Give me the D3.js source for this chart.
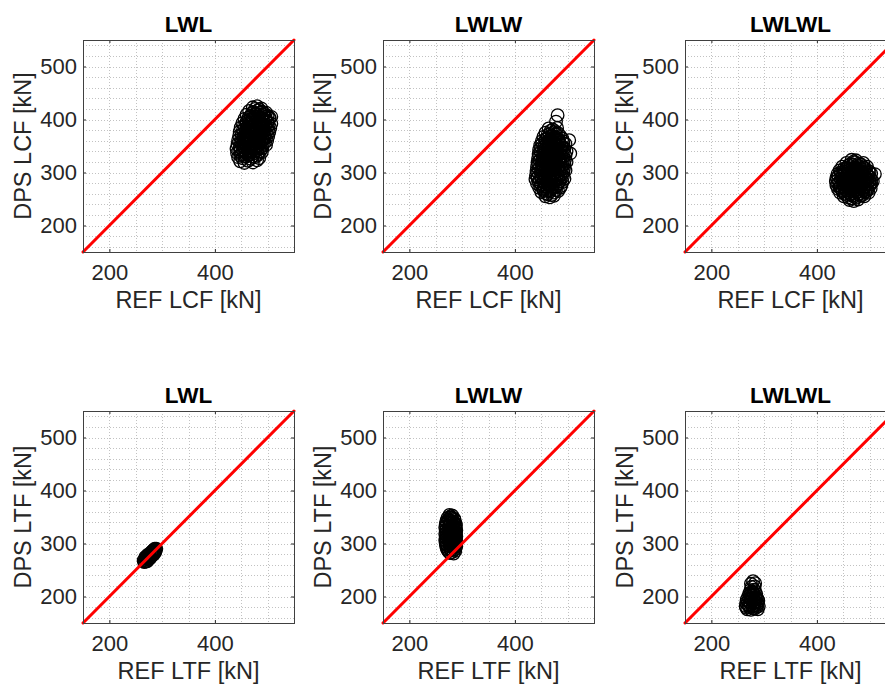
<!DOCTYPE html>
<html><head><meta charset="utf-8">
<script src="https://cdn.jsdelivr.net/npm/d3@7"></script>
<style>body{margin:0;background:#fff;} svg{display:block;}</style>
</head><body>
<svg id="chart" width="885" height="684"></svg>
<script>
// ---------- data ----------
const panelTitles = ["LWL", "LWLW", "LWLWL"];
const rowQuantities = ["LCF", "LTF"];
const axisDomain = [150, 550];
const xTickValues = [200, 400];
const yTickValues = [200, 300, 400, 500];
const xGridValues = [200, 250, 300, 350, 400, 450, 500];
const yGridValues = [160, 180, 200, 220, 240, 260, 280, 300, 320, 340, 360, 380, 400, 420, 440, 460, 480, 500, 520, 540];

// [REF, DPS] pairs
const lcfLWL = [
[448,321],[456,318],[463,322],[472,319],[480,323],
[444,329],[452,327],[460,330],[468,326],[476,329],[484,327],
[442,337],[450,335],[458,338],[466,334],[474,337],[482,335],[489,338],
[441,345],[449,343],[457,346],[465,342],[473,345],[481,343],[490,346],
[443,353],[451,351],[459,354],[467,350],[475,353],[483,351],[491,354],[497,352],
[444,361],[452,359],[460,362],[468,358],[476,361],[484,359],[492,362],[499,360],
[446,369],[454,367],[462,370],[470,366],[478,369],[486,367],[494,370],[501,368],
[447,377],[455,375],[463,378],[471,374],[479,377],[487,375],[495,378],[503,376],
[449,385],[457,383],[465,386],[473,382],[481,385],[489,383],[497,386],[505,384],
[452,393],[460,391],[468,394],[476,390],[484,393],[492,391],[500,394],[507,392],
[456,401],[464,399],[472,402],[480,398],[488,401],[496,399],[504,402],
[460,409],[468,407],[476,410],[484,406],[492,409],[500,407],[507,405],
[465,416],[473,414],[481,417],[489,415],[497,413],
[472,423],[480,425],[488,421],
[448,332],[456,331],[464,333],[472,331],[480,332],
[446,340],[454,339],[462,341],[470,339],[478,341],[486,340],
[447,348],[455,347],[463,349],[471,347],[479,349],[487,348],
[448,356],[456,355],[464,357],[472,355],[480,357],[488,356],[495,357],
[450,364],[458,363],[466,365],[474,363],[482,365],[490,364],[497,365],
[451,372],[459,371],[467,373],[475,371],[483,373],[491,372],[499,373],
[453,380],[461,379],[469,381],[477,379],[485,381],[493,380],[501,381],
[455,388],[463,387],[471,389],[479,387],[487,389],[495,388],[502,389],
[460,396],[468,395],[476,397],[484,395],[492,397],[500,396],
[464,404],[472,403],[480,405],[488,403],[496,405],[503,404],
[470,412],[478,411],[486,413],[494,411],
[476,420],[484,419]
];
const lcfLWLW = [
[458,255],[466,253],[474,256],
[450,263],[458,261],[466,264],[474,262],[482,265],
[446,271],[454,269],[462,272],[470,270],[478,273],[486,271],
[442,279],[450,277],[458,280],[466,278],[474,281],[482,279],[490,282],
[439,287],[447,285],[455,288],[463,286],[471,289],[479,287],[487,290],[494,288],
[440,295],[448,293],[456,296],[464,294],[472,297],[480,295],[488,298],
[441,303],[449,301],[457,304],[465,302],[473,305],[481,303],[489,306],[496,304],
[442,311],[450,309],[458,312],[466,310],[474,313],[482,311],[490,314],
[443,319],[451,317],[459,320],[467,318],[475,321],[483,319],[491,322],[498,320],
[444,327],[452,325],[460,328],[468,326],[476,329],[484,327],[492,330],
[445,335],[453,333],[461,336],[469,334],[477,337],[485,335],[493,338],[505,336],
[446,343],[454,341],[462,344],[470,342],[478,345],[486,343],[494,346],
[448,351],[456,349],[464,352],[472,350],[480,353],[488,351],[496,354],
[451,359],[459,357],[467,360],[475,358],[483,361],[491,359],[503,361],
[454,367],[462,365],[470,368],[478,366],[486,369],
[458,375],[466,373],[474,376],[482,374],
[464,383],[472,381],[480,384],
[478,396],[481,408],
[462,259],[470,258],
[454,267],[462,266],[470,268],[478,267],
[448,275],[456,274],[464,276],[472,274],[480,276],[488,275],
[445,283],[453,282],[461,284],[469,282],[477,284],[485,283],
[443,291],[451,290],[459,292],[467,290],[475,292],[483,291],[491,292],
[444,299],[452,298],[460,300],[468,298],[476,300],[484,299],[492,300],
[445,307],[453,306],[461,308],[469,306],[477,308],[485,307],[493,308],
[446,315],[454,314],[462,316],[470,314],[478,316],[486,315],[494,316],
[447,323],[455,322],[463,324],[471,322],[479,324],[487,323],[495,324],
[448,331],[456,330],[464,332],[472,330],[480,332],[488,331],[496,332],
[449,339],[457,338],[465,340],[473,338],[481,340],[489,339],[498,340],
[450,347],[458,346],[466,348],[474,346],[482,348],[490,347],
[452,355],[460,354],[468,356],[476,354],[484,356],[492,355],
[458,363],[466,362],[474,364],[482,362],[490,364],
[462,371],[470,370],[478,372],
[468,379],[476,378]
];
const lcfLWLWL = [
[462,248],[470,246],[478,249],
[451,255],[459,253],[467,256],[475,254],[483,256],[490,255],
[444,262],[452,260],[460,263],[468,261],[476,263],[484,261],[492,263],[498,262],
[440,269],[448,267],[456,270],[464,268],[472,270],[480,268],[488,270],[496,268],[502,270],
[437,276],[445,274],[453,277],[461,275],[469,277],[477,275],[485,277],[493,275],[501,277],
[436,283],[444,281],[452,284],[460,282],[468,284],[476,282],[484,284],[492,282],[500,284],[506,283],
[437,290],[445,288],[453,291],[461,289],[469,291],[477,289],[485,291],[493,289],[501,291],
[439,297],[447,295],[455,298],[463,296],[471,298],[479,296],[487,298],[495,296],[503,298],
[443,304],[451,302],[459,305],[467,303],[475,305],[483,303],[491,305],[498,303],
[448,311],[456,309],[464,312],[472,310],[480,312],[488,310],[495,311],
[456,318],[464,316],[472,319],[480,317],[488,318],
[466,324],[474,323],
[510,297],
[466,251],[474,252],
[455,258],[463,259],[471,258],[479,259],[487,258],
[448,265],[456,266],[464,265],[472,266],[480,265],[488,266],[495,265],
[443,272],[451,273],[459,272],[467,273],[475,272],[483,273],[491,272],[499,273],
[440,279],[448,280],[456,279],[464,280],[472,279],[480,280],[488,279],[496,280],[503,279],
[440,286],[448,287],[456,286],[464,287],[472,286],[480,287],[488,286],[496,287],[503,286],
[441,293],[449,294],[457,293],[465,294],[473,293],[481,294],[489,293],[497,294],
[445,300],[453,301],[461,300],[469,301],[477,300],[485,301],[493,300],[500,301],
[451,307],[459,308],[467,307],[475,308],[483,307],[491,308],
[460,314],[468,315],[476,314],[484,315],
[470,321]
];
const ltfLWL = [
[266,265],[270,266],[268,269],[272,270],[265,268],[271,273],[274,271],[276,274],[273,276],[269,272],
[278,276],[275,278],[280,277],[282,280],[279,283],[284,283],[281,285],[286,285],[283,287],
[288,288],[285,289],[287,284],[273,279],[268,274],[284,279],[271,276],[289,290],[277,272],[286,290],
[272,267],[275,272],[278,274],[280,282],[283,282],[286,287],[276,279],[281,279],[270,271],[267,266]
];
const ltfLWLW = [
[277,282],[284,281],
[272,288],[279,287],[286,289],
[270,294],[277,295],[284,293],[289,295],
[269,300],[276,301],[283,299],[289,301],
[268,306],[275,307],[282,305],[288,307],
[269,312],[276,313],[283,311],[289,313],
[268,318],[275,319],[282,317],[288,319],
[269,324],[276,325],[283,323],[289,325],
[268,330],[275,331],[282,329],[287,331],
[269,336],[276,337],[283,335],[288,337],
[270,342],[277,343],[284,341],
[272,348],[279,349],[285,347],
[276,354],[281,353],
[274,285],[281,284],[287,286],
[271,291],[278,290],[285,292],
[270,297],[277,298],[284,296],[288,298],
[269,303],[276,304],[283,302],[288,304],
[270,309],[277,310],[284,308],[288,310],
[270,315],[277,316],[284,314],[288,316],
[270,321],[277,322],[284,320],[288,322],
[270,327],[277,328],[284,326],[288,328],
[270,333],[277,334],[284,332],[288,334],
[271,339],[278,340],[285,338],
[274,345],[281,346],[286,344],
[278,351]
];
const ltfLWLWL = [
[268,176],[275,175],[282,177],[288,176],
[265,182],[271,183],[278,181],[285,183],[290,182],
[266,188],[273,189],[280,187],[287,189],
[267,194],[274,195],[281,193],[288,195],
[270,200],[277,201],[284,199],
[272,206],[279,207],[285,205],
[274,212],[281,213],
[276,218],[282,219],
[275,224],[283,225],
[279,229],
[266,179],[272,180],[279,178],[286,180],
[268,185],[275,186],[282,184],[288,186],
[269,191],[276,192],[283,190],[289,192],
[272,197],[279,198],[286,196],
[274,203],[281,204],
[277,209],[283,210]
];
const panelData = [[lcfLWL, lcfLWLW, lcfLWLWL], [ltfLWL, ltfLWLW, ltfLWLWL]];

// ---------- layout ----------
const colLeft = [83, 383, 685];
const rowTop = [40, 411];
const W = 211, H = 212;
const FONT = "'Liberation Sans', Arial, Helvetica, sans-serif";
const TXT = "#262626";

const svg = d3.select("#chart");

rowQuantities.forEach((q, r) => {
  panelTitles.forEach((t, c) => {
    const g = svg.append("g").attr("transform", `translate(${colLeft[c]},${rowTop[r]})`);
    const x = d3.scaleLinear().domain(axisDomain).range([0, W]);
    const y = d3.scaleLinear().domain(axisDomain).range([H, 0]);

    // grid
    g.append("g").selectAll("line").data(xGridValues).join("line")
      .attr("x1", d => Math.round(x(d)) + 0.5).attr("x2", d => Math.round(x(d)) + 0.5)
      .attr("y1", 0).attr("y2", H)
      .attr("stroke", "#c2c2c2").attr("stroke-width", 1).attr("stroke-dasharray", "1,2");
    g.append("g").selectAll("line").data(yGridValues).join("line")
      .attr("y1", d => Math.round(y(d)) + 0.5).attr("y2", d => Math.round(y(d)) + 0.5)
      .attr("x1", 0).attr("x2", W)
      .attr("stroke", "#c2c2c2").attr("stroke-width", 1).attr("stroke-dasharray", "1,2");

    // points
    g.append("g").selectAll("circle").data(panelData[r][c]).join("circle")
      .attr("cx", d => x(d[0])).attr("cy", d => y(d[1])).attr("r", 6.3)
      .attr("fill", "none").attr("stroke", "#000").attr("stroke-width", 1.3);

    // 1:1 line
    g.append("line")
      .attr("x1", x(axisDomain[0])).attr("y1", y(axisDomain[0]))
      .attr("x2", x(axisDomain[1])).attr("y2", y(axisDomain[1]))
      .attr("stroke", "#ff0000").attr("stroke-width", 3).attr("stroke-linecap", "round");

    // axes
    const styleAxis = sel => {
      sel.select(".domain").remove();
      sel.selectAll(".tick line").attr("stroke", TXT);
      sel.selectAll(".tick text").attr("fill", TXT).style("font-family", FONT).style("font-size", "22px");
    };
    g.append("g").attr("transform", `translate(0,${H})`)
      .call(d3.axisBottom(x).tickValues(xTickValues).tickSizeInner(-3).tickSizeOuter(0).tickPadding(12.5))
      .call(styleAxis);
    g.append("g")
      .call(d3.axisLeft(y).tickValues(yTickValues).tickSizeInner(-3).tickSizeOuter(0).tickPadding(6))
      .call(styleAxis);
    g.append("g")
      .call(d3.axisTop(x).tickValues(xTickValues).tickSizeInner(-3).tickSizeOuter(0).tickFormat(""))
      .call(styleAxis);
    g.append("g").attr("transform", `translate(${W},0)`)
      .call(d3.axisRight(y).tickValues(yTickValues).tickSizeInner(-3).tickSizeOuter(0).tickFormat(""))
      .call(styleAxis);

    // box
    g.append("rect").attr("x", 0.5).attr("y", 0.5).attr("width", W).attr("height", H)
      .attr("fill", "none").attr("stroke", "#404040").attr("stroke-width", 1);

    // title
    g.append("text").attr("x", W / 2).attr("y", -8).attr("text-anchor", "middle")
      .style("font-family", FONT).style("font-size", "22.5px").style("font-weight", "bold")
      .attr("fill", "#000").text(t);
    // x label
    g.append("text").attr("x", W / 2).attr("y", H + 56).attr("text-anchor", "middle")
      .style("font-family", FONT).style("font-size", "23.5px").attr("fill", TXT)
      .text(`REF ${q} [kN]`);
    // y label
    g.append("text").attr("transform", `translate(-52,${H / 2}) rotate(-90)`)
      .attr("text-anchor", "middle")
      .style("font-family", FONT).style("font-size", "23.5px").attr("fill", TXT)
      .text(`DPS ${q} [kN]`);
  });
});
</script>
</body></html>
